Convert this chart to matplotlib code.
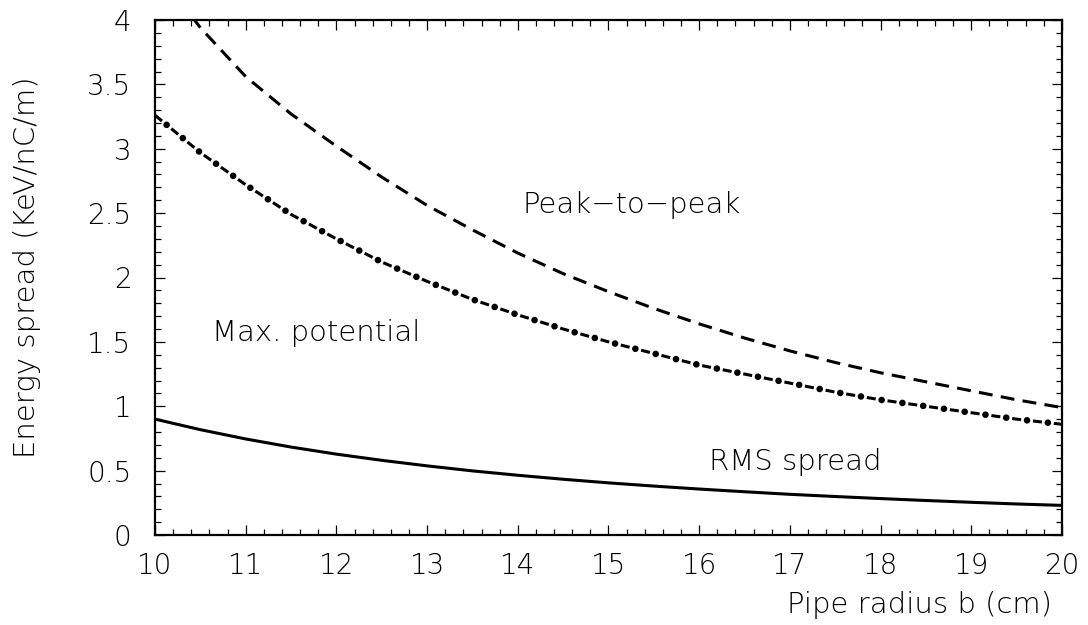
import numpy as np
import matplotlib
matplotlib.use("Agg")
import matplotlib.pyplot as plt
from matplotlib.ticker import MultipleLocator

plt.rcParams['font.family'] = ['DejaVu Sans']
plt.rcParams['font.weight'] = 200
plt.rcParams['lines.scale_dashes'] = False

# pipe radius b (cm)
b = [10, 10.5, 11, 11.5, 12, 12.5, 13, 13.5, 14, 14.5, 15,
     15.5, 16, 16.5, 17, 17.5, 18, 18.5, 19, 19.5, 20]

# energy spread (KeV/nC/m)
peak_to_peak = [4.40, 3.94, 3.56, 3.27, 3.02, 2.78, 2.56, 2.37, 2.19, 2.03, 1.89,
                1.76, 1.64, 1.53, 1.43, 1.34, 1.26, 1.19, 1.12, 1.05, 0.99]
max_potential = [3.26, 2.97, 2.72, 2.49, 2.30, 2.12, 1.97, 1.83, 1.71, 1.60, 1.50,
                 1.41, 1.32, 1.25, 1.18, 1.11, 1.05, 1.00, 0.95, 0.90, 0.86]
rms_spread = [0.90, 0.818, 0.746, 0.683, 0.628, 0.580, 0.537, 0.498, 0.464, 0.433, 0.405,
              0.380, 0.357, 0.336, 0.316, 0.299, 0.283, 0.268, 0.254, 0.241, 0.230]

xticks = [10, 11, 12, 13, 14, 15, 16, 17, 18, 19, 20]
yticks = [0, 0.5, 1, 1.5, 2, 2.5, 3, 3.5, 4]
ytick_labels = ['0', '0.5', '1', '1.5', '2', '2.5', '3', '3.5', '4']

fig = plt.figure(figsize=(10.88, 6.25), dpi=100)
ax = fig.add_axes([0.1425, 0.144, 0.8335, 0.824])

ax.plot(b, peak_to_peak, color='black', lw=2.2, linestyle=(0, (10, 6)))
# dash + dot pattern, drawn as two lines on the same data
ax.plot(b, max_potential, color='black', lw=2.2, linestyle=(0, (6.5, 8.6)))
ax.plot(b, max_potential, color='black', lw=4.8, linestyle=(4.3, (0.01, 15.09)),
        dash_capstyle='round')
ax.plot(b, rms_spread, color='black', lw=2.2)

ax.set_xlim(10, 20)
ax.set_ylim(0, 4)
ax.set_xticks(xticks)
ax.set_xticklabels([str(t) for t in xticks])
ax.set_yticks(yticks)
ax.set_yticklabels(ytick_labels)
ax.xaxis.set_minor_locator(MultipleLocator(0.2))
ax.yaxis.set_minor_locator(MultipleLocator(0.1))
ax.tick_params(which='both', direction='in', top=True, right=True, width=0.9)
ax.tick_params(which='major', length=7)
ax.tick_params(which='minor', length=4)
ax.tick_params(axis='x', labelsize=20, pad=12)
ax.tick_params(axis='y', labelsize=20, pad=17)
for sp in ax.spines.values():
    sp.set_linewidth(1.6)

ax.set_xlabel('Pipe radius b (cm)', fontsize=21, fontweight=200, ha='right', va='center')
ax.xaxis.set_label_coords(0.989, -0.136)
ax.set_ylabel('Energy spread (KeV/nC/m)', fontsize=21, fontweight=200, va='center')
ax.yaxis.set_label_coords(-0.141, 0.52)

ax.text(15.26, 2.56, 'Peak\u2212to\u2212peak', fontsize=21, ha='center', va='center')
ax.text(11.78, 1.57, 'Max. potential', fontsize=21, ha='center', va='center')
ax.text(17.06, 0.567, 'RMS spread', fontsize=21, ha='center', va='center')

fig.savefig('out.png', dpi=100)
